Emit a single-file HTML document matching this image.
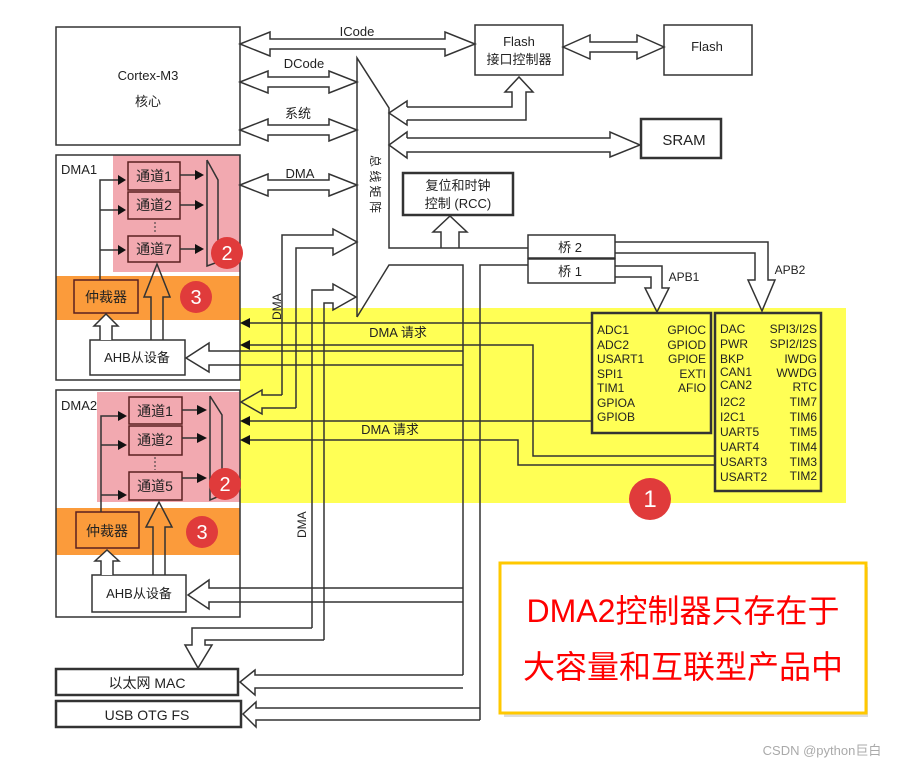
<!DOCTYPE html>
<html><head><meta charset="utf-8"><style>
html,body{margin:0;padding:0;background:#fff;}
svg{display:block;}
text{font-family:"Liberation Sans","Noto Sans CJK SC",sans-serif;fill:#222;}
</style></head><body>
<svg width="906" height="765" viewBox="0 0 906 765" xmlns="http://www.w3.org/2000/svg">
<rect x="240" y="308" width="606" height="195" fill="#ffff55"/>
<rect x="113" y="155" width="127" height="117" fill="#f2a9b0"/>
<rect x="56" y="276" width="184" height="44" fill="#fb9b3b"/>
<rect x="97" y="392" width="143" height="110" fill="#f2a9b0"/>
<rect x="56" y="508" width="184" height="47" fill="#fb9b3b"/>

<g fill="none" stroke="#333" stroke-width="1.5">
<rect x="56" y="27" width="184" height="118" fill="#fff"/>
<rect x="475" y="25" width="88" height="50" fill="#fff"/>
<rect x="664" y="25" width="88" height="50" fill="#fff"/>
<rect x="641" y="119" width="80" height="39" fill="#fff" stroke-width="2.5"/>
<rect x="403" y="173" width="110" height="42" fill="#fff" stroke-width="2.5"/>
<rect x="528" y="235" width="87" height="23" fill="#fff"/>
<rect x="528" y="259" width="87" height="24" fill="#fff"/>
<rect x="56" y="155" width="184" height="225"/>
<rect x="56" y="390" width="184" height="227"/>
<polygon points="240,44 270,32 270,39 445,39 445,32 475,44 445,56 445,49 270,49 270,56" fill="#fff"/>
<polygon points="563,47 590,35 590,42 637,42 637,35 664,47 637,59 637,52 590,52 590,59" fill="#fff"/>
<polygon points="240,82 268,71 268,77 329,77 329,71 357,82 329,93 329,87 268,87 268,93" fill="#fff"/>
<polygon points="240,130 268,119 268,125 329,125 329,119 357,130 329,141 329,135 268,135 268,141" fill="#fff"/>
<polygon points="240,185 268,174 268,180 329,180 329,174 357,185 329,196 329,190 268,190 268,196" fill="#fff"/>
<polyline points="357,317 357,58 389,108 389,248 528,248"/>
<polyline points="357,317 389,265 463,265 463,675"/>
<polyline points="480,720 480,265 528,265"/>
<polyline points="407,107 512,107 512,92 505,92 519,77 533,92 526,92 526,120 407,120"/>
<polyline points="407,107 407,101 389,113 407,125 407,120"/>
<polyline points="407,138 610,138 610,132 640,145 610,157 610,152 407,152 407,158 389,145 407,132 407,138"/>
<polyline points="441,248 441,232 433,232 450,216 467,232 459,232 459,248"/>
<polyline points="615,266 662,266 662,288 669,288 657,312 645,288 651,288 651,277 615,277"/>
<polyline points="615,242 768,242 768,280 775,280 762,311 748,280 755,280 755,253 615,253"/>
<rect x="592" y="313" width="119" height="120" stroke-width="2.5"/>
<rect x="715" y="313" width="106" height="178" stroke-width="2.5"/>
<polyline points="282,395 282,235 333,235 333,229 357,242 333,255 333,248 296,248 296,408"/>
<polyline points="282,395 262,395 262,390 241,402 262,414 262,408 296,408"/>
<polyline points="312,628 312,290 333,290 333,284 356,297 333,310 333,303 324,303 324,640"/>
<polyline points="312,628 192,628 192,645 185,645 198,668 212,645 205,645 205,640 324,640"/>
<polyline points="248,323 593,323"/>
<polyline points="248,345 533,345 533,456 715,456"/>
<polyline points="248,421 593,421"/>
<polyline points="248,440 518,440 518,465 715,465"/>
<polyline points="463,351 209,351 209,343 186,358 209,372 209,365 463,365"/>
<polyline points="463,588 209,588 209,580 188,595 209,609 209,602 463,602"/>
<polyline points="463,675 255,675 255,670 240,682 255,695 255,688 463,688"/>
<polyline points="480,708 256,708 256,702 243,714 256,727 256,720 480,720"/>
<rect x="56" y="669" width="182" height="26" stroke-width="2.5"/>
<rect x="56" y="701" width="185" height="26" stroke-width="2.5"/>
<rect x="128" y="162" width="52" height="28" stroke="#5a2020"/>
<rect x="128" y="192" width="52" height="27" stroke="#5a2020"/>
<rect x="128" y="236" width="52" height="26" stroke="#5a2020"/>
<polyline points="207,160 207,266 218,262 218,180 207,160"/>
<rect x="74" y="280" width="64" height="33" stroke="#5a2020"/>
<rect x="90" y="340" width="95" height="35" fill="#fff"/>
<polyline points="100,280 100,180 118,180"/><polyline points="100,210 118,210"/><polyline points="100,250 118,250"/>
<polyline points="180,175 195,175"/><polyline points="180,205 195,205"/><polyline points="180,249 195,249"/>
<polyline points="151,340 151,297 144,297 157,264 170,297 163,297 163,340"/>
<polyline points="100,340 100,326 94,326 106,314 118,326 112,326 112,340" fill="#fff"/>
<rect x="129" y="397" width="53" height="27" stroke="#5a2020"/>
<rect x="129" y="426" width="53" height="29" stroke="#5a2020"/>
<rect x="129" y="472" width="53" height="28" stroke="#5a2020"/>
<polyline points="210,396 210,500 222,495 222,415 210,396"/>
<rect x="76" y="512" width="63" height="36" stroke="#5a2020"/>
<rect x="92" y="575" width="94" height="37" fill="#fff"/>
<polyline points="101,512 101,416 118,416"/><polyline points="101,445 118,445"/><polyline points="101,495 118,495"/>
<polyline points="182,410 197,410"/><polyline points="182,438 197,438"/><polyline points="182,478 197,478"/>
<polyline points="153,575 153,527 146,527 159,502 172,527 165,527 165,575"/>
<polyline points="101,575 101,561 95,561 107,550 119,561 113,561 113,575" fill="#fff"/>
</g>
<g fill="#111">
<polygon points="118,175 118,185 126,180"/><polygon points="118,205 118,215 126,210"/><polygon points="118,245 118,255 126,250"/>
<polygon points="195,170 195,180 204,175"/><polygon points="195,200 195,210 204,205"/><polygon points="195,244 195,254 204,249"/>
<polygon points="118,411 118,421 127,416"/><polygon points="118,440 118,450 127,445"/><polygon points="118,490 118,500 127,495"/>
<polygon points="197,405 197,415 207,410"/><polygon points="197,433 197,443 207,438"/><polygon points="197,473 197,483 207,478"/>
<polygon points="240,323 250,318 250,328"/><polygon points="240,345 250,340 250,350"/>
<polygon points="240,421 250,416 250,426"/><polygon points="240,440 250,435 250,445"/>
</g>
<line x1="155" y1="222" x2="155" y2="234" stroke="#333" stroke-dasharray="2,2"/>
<line x1="155" y1="457" x2="155" y2="470" stroke="#333" stroke-dasharray="2,2"/>

<g font-size="13" text-anchor="middle">
<text x="148" y="80">Cortex-M3</text>
<text x="148" y="106">核心</text>
<text x="357" y="36">ICode</text>
<text x="304" y="68">DCode</text>
<text x="298" y="118">系统</text>
<text x="300" y="178">DMA</text>
<text x="519" y="46">Flash</text>
<text x="519" y="64">接口控制器</text>
<text x="707" y="51">Flash</text>
<text x="684" y="145" font-size="15">SRAM</text>
<text x="458" y="190">复位和时钟</text>
<text x="458" y="208">控制 (RCC)</text>
<text x="570" y="252">桥  2</text>
<text x="570" y="276">桥  1</text>
<text x="398" y="337">DMA  请求</text>
<text x="390" y="434">DMA 请求</text>
<text x="147" y="720" font-size="14">USB OTG FS</text>
<text x="137" y="362">AHB从设备</text>
<text x="139" y="598">AHB从设备</text>
<text x="154" y="181" font-size="14" fill="#3a0a0a">通道1</text>
<text x="154" y="210" font-size="14" fill="#3a0a0a">通道2</text>
<text x="154" y="254" font-size="14" fill="#3a0a0a">通道7</text>
<text x="106" y="302" font-size="14" fill="#3a0a0a">仲裁器</text>
<text x="155" y="416" font-size="14" fill="#3a0a0a">通道1</text>
<text x="155" y="445" font-size="14" fill="#3a0a0a">通道2</text>
<text x="155" y="491" font-size="14" fill="#3a0a0a">通道5</text>
<text x="107" y="536" font-size="14" fill="#3a0a0a">仲裁器</text>
<text x="684" y="281" font-size="12">APB1</text>
<text x="790" y="274" font-size="12">APB2</text>
</g>
<text x="147" y="688" font-size="14" text-anchor="middle">以太网 MAC</text>
<text x="61" y="174" font-size="13">DMA1</text>
<text x="61" y="410" font-size="13">DMA2</text>
<g font-size="12">
<text x="376" y="150" transform="rotate(90 371 150)">总 线 矩 阵</text>
<text x="281" y="320" transform="rotate(-90 281 320)">DMA</text>
<text x="306" y="538" transform="rotate(-90 306 538)">DMA</text>
</g>
<g font-size="12">
<text x="597" y="334">ADC1</text><text x="597" y="349">ADC2</text><text x="597" y="363">USART1</text><text x="597" y="378">SPI1</text><text x="597" y="392">TIM1</text><text x="597" y="407">GPIOA</text><text x="597" y="421">GPIOB</text>
<g text-anchor="end"><text x="706" y="334">GPIOC</text><text x="706" y="349">GPIOD</text><text x="706" y="363">GPIOE</text><text x="706" y="378">EXTI</text><text x="706" y="392">AFIO</text></g>
<text x="720" y="333">DAC</text><text x="720" y="348">PWR</text><text x="720" y="363">BKP</text><text x="720" y="376">CAN1</text><text x="720" y="389">CAN2</text><text x="720" y="406">I2C2</text><text x="720" y="421">I2C1</text><text x="720" y="436">UART5</text><text x="720" y="451">UART4</text><text x="720" y="466">USART3</text><text x="720" y="481">USART2</text>
<g text-anchor="end"><text x="817" y="333">SPI3/I2S</text><text x="817" y="348">SPI2/I2S</text><text x="817" y="363">IWDG</text><text x="817" y="377">WWDG</text><text x="817" y="391">RTC</text><text x="817" y="406">TIM7</text><text x="817" y="421">TIM6</text><text x="817" y="436">TIM5</text><text x="817" y="451">TIM4</text><text x="817" y="466">TIM3</text><text x="817" y="480">TIM2</text></g>
</g>
<g font-size="20" text-anchor="middle">
<circle cx="227" cy="253" r="16" fill="#e03b3b"/><text x="227" y="260" style="fill:#fff">2</text>
<circle cx="196" cy="297" r="16" fill="#e03b3b"/><text x="196" y="304" style="fill:#fff">3</text>
<circle cx="225" cy="484" r="16" fill="#e03b3b"/><text x="225" y="491" style="fill:#fff">2</text>
<circle cx="202" cy="532" r="16" fill="#e03b3b"/><text x="202" y="539" style="fill:#fff">3</text>
<circle cx="650" cy="499" r="21" fill="#e03b3b"/><text x="650" y="507" font-size="24" style="fill:#fff">1</text>
</g>
<rect x="504" y="567" width="364" height="150" fill="#bbb" opacity="0.5"/>
<rect x="500" y="563" width="366" height="150" fill="#fff" stroke="#ffc800" stroke-width="3"/>
<g font-size="32" text-anchor="middle">
<text x="683" y="622" style="fill:#ff0000">DMA2控制器只存在于</text>
<text x="683" y="678" style="fill:#ff0000">大容量和互联型产品中</text>
</g>
<text x="822" y="755" font-size="13" text-anchor="middle" style="fill:#aaa">CSDN @python巨白</text>
</svg>
</body></html>
